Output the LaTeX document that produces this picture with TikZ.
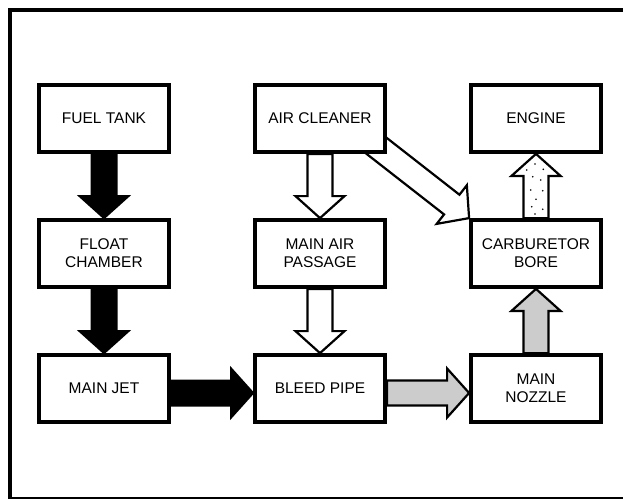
\documentclass[tikz,border=0pt]{standalone}
\usepackage{fontspec}
\setmainfont{Liberation Sans}
\usetikzlibrary{calc}
\pgfdeclarelayer{back}
\pgfdeclarelayer{bg}
\pgfsetlayers{back,bg,main}
\newcommand\arrSW{12.5pt}
\newcommand\arrHW{24.5pt}
\newcommand\arrHL{22pt}
% block arrow from #2 to #3 (tip at #3)
\newcommand\blockarrow[3][]{%
  \draw[#1] ($(#2)!\arrSW!90:(#3)$)
    -- ($(#3)!\arrHL!(#2)!\arrSW!-90:(#2)$)
    -- ($(#3)!\arrHL!(#2)!\arrHW!-90:(#2)$)
    -- (#3)
    -- ($(#3)!\arrHL!(#2)!\arrHW!90:(#2)$)
    -- ($(#3)!\arrHL!(#2)!\arrSW!90:(#2)$)
    -- ($(#2)!\arrSW!-90:(#3)$) -- cycle;}
\tikzset{
  box/.style={draw, line width=3.8pt, fill=white, minimum width=130pt,
    minimum height=67pt, align=center, inner sep=0pt,
    font=\fontsize{15.5}{18.3}\selectfont},
  fuelarrow/.style={draw=black, fill=black, line width=2pt, line join=miter},
  airarrow/.style={draw=black, fill=white, line width=2.2pt, line join=miter},
  mixarrow/.style={draw=black, fill=black!20, line width=2.2pt, line join=miter},
  frame/.style={draw=black, line width=4pt},
  dot/.style={fill=black}
}
\begin{document}
\begin{tikzpicture}[x=1pt,y=-1pt]
\useasboundingbox (0,0) rectangle (623,498);
\begin{pgfonlayer}{back}
  \fill[white] (0,0) rectangle (623,498);
\end{pgfonlayer}
\clip (0,0) rectangle (623,498);
\draw[frame] (9.5,9.5) rectangle (680,498.5);

\node[box] (ft) at (104,118.5) {FUEL TANK};
\node[box] (ac) at (320,118.5) {AIR CLEANER};
\node[box] (en) at (536,118.5) {ENGINE};
\node[box] (fc) at (104,253.5) {FLOAT\\CHAMBER};
\node[box] (ma) at (320,253.5) {MAIN AIR\\PASSAGE};
\node[box] (cb) at (536,253.5) {CARBURETOR\\BORE};
\node[box] (mj) at (104,388.5) {MAIN JET};
\node[box] (bp) at (320,388.5) {BLEED PIPE};
\node[box] (mn) at (536,388.5) {MAIN\\NOZZLE};

\coordinate (mjE) at ($(mj.east)+(0,4.5)$);
\coordinate (bpW) at ($(bp.west)+(0,4.5)$);
\coordinate (bpE) at ($(bp.east)+(0,4.5)$);
\coordinate (mnW) at ($(mn.west)+(0,4.5)$);
\coordinate (acT) at ($(cb.north west)!1.3!(ac.south east)$);

\begin{pgfonlayer}{bg}
  \blockarrow[fuelarrow]{ft.south}{fc.north}
  \blockarrow[fuelarrow]{fc.south}{mj.north}
  \blockarrow[fuelarrow]{mjE}{bpW}
  \blockarrow[airarrow]{ac.south}{ma.north}
  \blockarrow[airarrow]{ma.south}{bp.north}
  \blockarrow[airarrow]{acT}{cb.north west}
  \blockarrow[mixarrow]{bpE}{mnW}
  \blockarrow[mixarrow]{mn.north}{cb.south}
  \blockarrow[airarrow]{cb.north}{en.south}
  \foreach \p in {(535,164),(543.3,169.3),(526.7,170),(532.7,176.7),(540.7,180),
                  (530.7,190),(542.7,190.7),(536,199.3),(531.7,206.7),(542.7,209.3),(535,214)}
    \fill[dot] \p circle[radius=0.9pt];
\end{pgfonlayer}
\end{tikzpicture}
\end{document}
